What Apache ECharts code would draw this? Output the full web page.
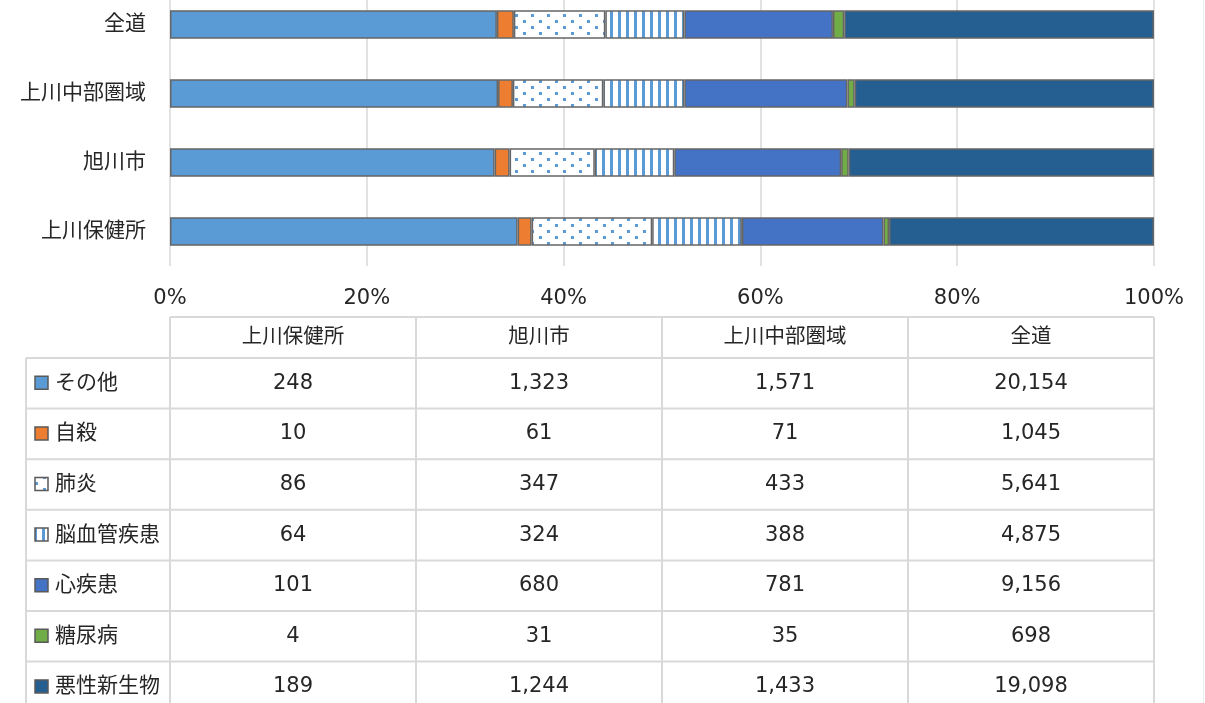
<!DOCTYPE html>
<html>
<head>
<meta charset="utf-8">
<style>
  html, body { margin: 0; padding: 0; background: #fff; }
  #chart { width: 1205px; height: 703px; }
</style>
<script src="https://cdn.jsdelivr.net/npm/echarts@6/dist/echarts.min.js"></script>
</head>
<body>
<div id="chart"></div>
<script>
// 地域（下から上へ）
const areas = ["上川保健所", "旭川市", "上川中部圏域", "全道"];
// 死因（積み上げ順：左から右）
const causes = ["その他", "自殺", "肺炎", "脳血管疾患", "心疾患", "糖尿病", "悪性新生物"];
// 死亡数 [上川保健所, 旭川市, 上川中部圏域, 全道]
const sonota = [248, 1323, 1571, 20154];
const jisatsu = [10, 61, 71, 1045];
const haien = [86, 347, 433, 5641];
const noukekkan = [64, 324, 388, 4875];
const shinshikkan = [101, 680, 781, 9156];
const tounyou = [4, 31, 35, 698];
const akusei = [189, 1244, 1433, 19098];
const xTicks = [0, 20, 40, 60, 80, 100];

const causeValues = [sonota, jisatsu, haien, noukekkan, shinshikkan, tounyou, akusei];

// 塗りパターン
function dotPattern() {
  const c = document.createElement("canvas");
  c.width = 16;
  c.height = 12;
  const ctx = c.getContext("2d");
  ctx.fillStyle = "#fff";
  ctx.fillRect(0, 0, 16, 12);
  ctx.fillStyle = "#5B9BD5";
  ctx.fillRect(3, 2, 3, 3);
  ctx.fillRect(11, 8, 3, 3);
  return { image: c, repeat: "repeat" };
}
function stripePattern() {
  const c = document.createElement("canvas");
  c.width = 8;
  c.height = 8;
  const ctx = c.getContext("2d");
  ctx.fillStyle = "#fff";
  ctx.fillRect(0, 0, 8, 8);
  ctx.fillStyle = "#5B9BD5";
  ctx.fillRect(2, 0, 3, 8);
  return { image: c, repeat: "repeat" };
}

const fills = [
  "#5B9BD5",
  "#ED7D31",
  dotPattern(),
  stripePattern(),
  "#4472C4",
  "#70AD47",
  "#255E91",
];

// 合計（100%積み上げ用）
const totals = areas.map((_, i) => causeValues.reduce((s, arr) => s + arr[i], 0));

// レイアウト
const gridLeft = 170;
const gridWidth = 984;
const colW = gridWidth / areas.length;
const headTop = 317;
const rowTop = 358;
const rowH = 50.6;
const labelLeft = 26;
const lineColor = "#d9d9d9";
const textColor = "#262626";
const font = '"DejaVu Sans", "Noto Sans CJK JP", sans-serif';

const fmt = (v) => v.toLocaleString("en-US");

// 表の作成
const graphics = [];
const tableBottom = 720;
// 縦線
for (let c = 0; c <= areas.length; c++) {
  const x = gridLeft + c * colW;
  graphics.push({
    type: "line",
    shape: { x1: x, y1: headTop, x2: x, y2: tableBottom },
    style: { stroke: lineColor, lineWidth: 2 },
  });
}
graphics.push({
  type: "line",
  shape: { x1: labelLeft, y1: rowTop, x2: labelLeft, y2: tableBottom },
  style: { stroke: lineColor, lineWidth: 2 },
});
// 横線
graphics.push({
  type: "line",
  shape: { x1: gridLeft, y1: headTop, x2: gridLeft + gridWidth, y2: headTop },
  style: { stroke: lineColor, lineWidth: 2 },
});
for (let r = 0; r <= causes.length; r++) {
  const y = rowTop + r * rowH;
  graphics.push({
    type: "line",
    shape: { x1: labelLeft, y1: y, x2: gridLeft + gridWidth, y2: y },
    style: { stroke: lineColor, lineWidth: 2 },
  });
}
// 右端の枠線
graphics.push({
  type: "line",
  shape: { x1: 1203.5, y1: 0, x2: 1203.5, y2: 703 },
  style: { stroke: "#ececec", lineWidth: 1 },
});
// 見出し
areas.forEach((a, c) => {
  graphics.push({
    type: "text",
    x: gridLeft + c * colW + colW / 2,
    y: (headTop + rowTop) / 2,
    style: {
      text: a, fill: textColor, font: "20.5px " + font,
      align: "center", verticalAlign: "middle",
    },
  });
});
// 行
causes.forEach((name, r) => {
  const cy = rowTop + r * rowH + rowH / 2;
  graphics.push({
    type: "rect",
    shape: { x: 35, y: cy - 7, width: 13, height: 13 },
    style: { fill: fills[r], stroke: "#595959", lineWidth: 1.5 },
  });
  graphics.push({
    type: "text",
    x: 55,
    y: cy,
    style: {
      text: name, fill: textColor, font: "21px " + font,
      align: "left", verticalAlign: "middle",
    },
  });
  causeValues[r].forEach((v, c) => {
    graphics.push({
      type: "text",
      x: gridLeft + c * colW + colW / 2,
      y: cy,
      style: {
        text: fmt(v), fill: textColor, font: "21px " + font,
        align: "center", verticalAlign: "middle",
      },
    });
  });
});

const chart = echarts.init(document.getElementById("chart"));

const option = {
  backgroundColor: "#fff",
  animation: false,
  grid: {
    left: gridLeft,
    width: gridWidth,
    top: -10,
    height: 276,
    outerBoundsMode: "none",
    containLabel: false,
  },
  xAxis: {
    type: "value",
    min: 0,
    max: 100,
    interval: 20,
    axisLine: { show: false },
    axisTick: { show: false },
    splitLine: { lineStyle: { color: lineColor, width: 1.5 } },
    axisLabel: {
      formatter: "{value}%",
      color: textColor,
      fontSize: 21,
      fontFamily: font,
      margin: 22,
      customValues: xTicks,
    },
  },
  yAxis: {
    type: "category",
    data: areas,
    axisLine: { show: false },
    axisTick: { show: false },
    axisLabel: {
      color: textColor,
      fontSize: 21,
      fontFamily: font,
      margin: 24,
    },
  },
  series: causes.map((name, k) => ({
    name,
    type: "bar",
    stack: "total",
    barWidth: "41%",
    itemStyle: {
      color: fills[k],
      borderColor: "#666",
      borderWidth: 1.5,
    },
    data: causeValues[k].map((v, i) => (v / totals[i]) * 100),
  })),
  graphic: graphics,
};

chart.setOption(option);
</script>
</body>
</html>
